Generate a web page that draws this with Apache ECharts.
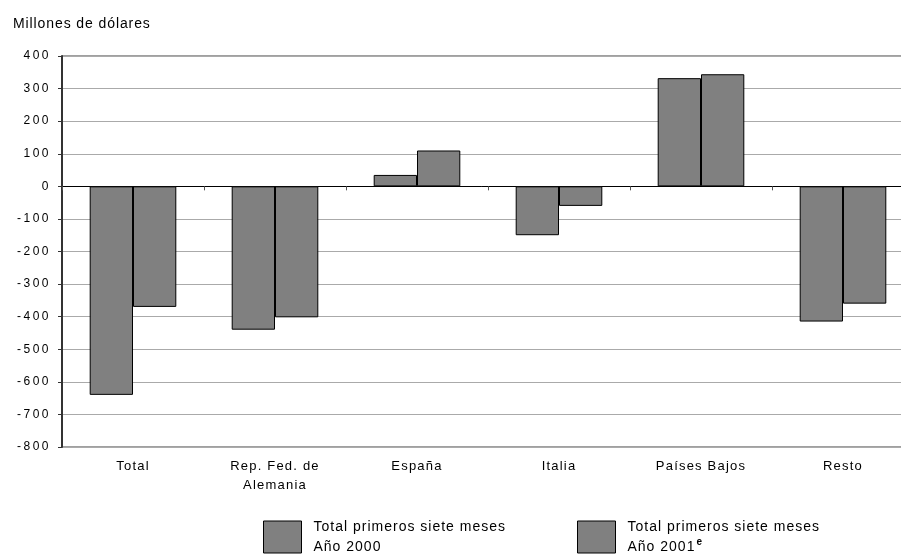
<!DOCTYPE html>
<html>
<head>
<meta charset="utf-8">
<script src="https://cdn.jsdelivr.net/npm/echarts@6/dist/echarts.min.js"></script>
<style>
html,body{margin:0;padding:0;background:#fff;}
#chart{width:901px;height:556px;}
</style>
</head>
<body>
<div id="chart"></div>
<script>
// ---- data ----
const categories = ['Total', 'Rep. Fed. de\nAlemania', 'España', 'Italia', 'Países Bajos', 'Resto'];
const ano2000 = [-640, -440, 35, -150, 332, -415];
const ano2001 = [-370, -402, 110, -60, 344, -360];
const yMin = -800;
const yMax = 400;
const yStep = 100;
const seriesNames = ['Año 2000', 'Año 2001'];
const legendLines = ['Total primeros siete meses', 'Año 2000', 'Año 2001', 'e'];

// letter spacing helper: a dummy family "lsNN" encodes spacing NN/10 px
(function () {
  const proto = CanvasRenderingContext2D.prototype;
  const d = Object.getOwnPropertyDescriptor(proto, 'font');
  if (!d || !('letterSpacing' in proto)) return;
  Object.defineProperty(proto, 'font', {
    configurable: true,
    get: function () { return d.get.call(this); },
    set: function (v) {
      d.set.call(this, v);
      const m = /ls(\d+)/.exec(v);
      this.letterSpacing = m ? (parseInt(m[1], 10) / 10) + 'px' : '0px';
    }
  });
})();

const chart = echarts.init(document.getElementById('chart'), null, {renderer: 'canvas'});
const barStyle = {color: '#808080', borderColor: '#000', borderWidth: 1};

const option = {
  animation: false,
  backgroundColor: '#fff',
  title: {
    text: 'Millones de dólares',
    left: 8, top: 12,
    textStyle: {fontSize: 14, fontWeight: 'normal', color: '#000', fontFamily: 'ls9, "Liberation Sans"'}
  },
  grid: {
    left: 62, top: 56, width: 852, height: 391,
    outerBoundsMode: 'none', containLabel: false,
    show: true, borderColor: '#404040', borderWidth: 1, backgroundColor: '#fff'
  },
  legend: [
    {
      data: [seriesNames[0]], left: 263, top: 517, padding: 0,
      itemWidth: 38, itemHeight: 32, icon: 'rect',
      itemStyle: barStyle,
      formatter: function () { return legendLines[0] + '\n' + legendLines[1]; },
      textStyle: {fontSize: 14, lineHeight: 20, color: '#000', fontFamily: 'ls10, "Liberation Sans"', padding: [0, 0, 0, 7]}
    },
    {
      data: [seriesNames[1]], left: 577, top: 517, padding: 0,
      itemWidth: 38, itemHeight: 32, icon: 'rect',
      itemStyle: barStyle,
      formatter: function () { return '{t|' + legendLines[0] + '}\n{t|' + legendLines[2] + '}{s|' + legendLines[3] + '}'; },
      textStyle: {
        fontSize: 14, lineHeight: 20, color: '#000', fontFamily: 'ls10, "Liberation Sans"', padding: [0, 0, 0, 7],
        rich: {
          t: {fontSize: 14, lineHeight: 20, color: '#000', fontFamily: 'ls10, "Liberation Sans"'},
          s: {fontSize: 10, fontWeight: 'bold', lineHeight: 20, verticalAlign: 'top', color: '#000', fontFamily: '"Liberation Sans"', padding: [0, 0, 6, 1]}
        }
      }
    }
  ],
  xAxis: [
    {
      type: 'category', data: categories, position: 'bottom',
      axisLine: {show: false, onZero: false},
      axisTick: {show: false},
      splitLine: {show: false},
      axisLabel: {
        show: true, interval: 0, margin: 10, color: '#000',
        fontSize: 13, lineHeight: 19, fontFamily: 'ls12, "Liberation Sans"'
      }
    },
    {
      type: 'category', data: categories, position: 'bottom',
      axisLine: {show: true, onZero: true, onZeroAxisIndex: 0, lineStyle: {color: '#000', width: 1}},
      axisTick: {show: true, length: 4, lineStyle: {color: '#555'}},
      axisLabel: {show: false},
      splitLine: {show: false}
    }
  ],
  yAxis: {
    type: 'value', min: yMin, max: yMax, interval: yStep,
    axisLine: {show: true, lineStyle: {color: '#333', width: 2}},
    axisTick: {show: true, length: 4, lineStyle: {color: '#333'}},
    splitLine: {show: true, lineStyle: {color: '#aaaaaa', width: 1}},
    axisLabel: {
      margin: 11, color: '#000', fontSize: 12, fontFamily: 'ls25, "Liberation Sans"'
    }
  },
  series: [
    {
      name: seriesNames[0], type: 'bar', xAxisIndex: 0, data: ano2000,
      barGap: '0%', barCategoryGap: '39%', itemStyle: barStyle
    },
    {
      name: seriesNames[1], type: 'bar', xAxisIndex: 0, data: ano2001,
      barGap: '0%', barCategoryGap: '39%', itemStyle: barStyle
    }
  ]
};
chart.setOption(option);
</script>
</body>
</html>
